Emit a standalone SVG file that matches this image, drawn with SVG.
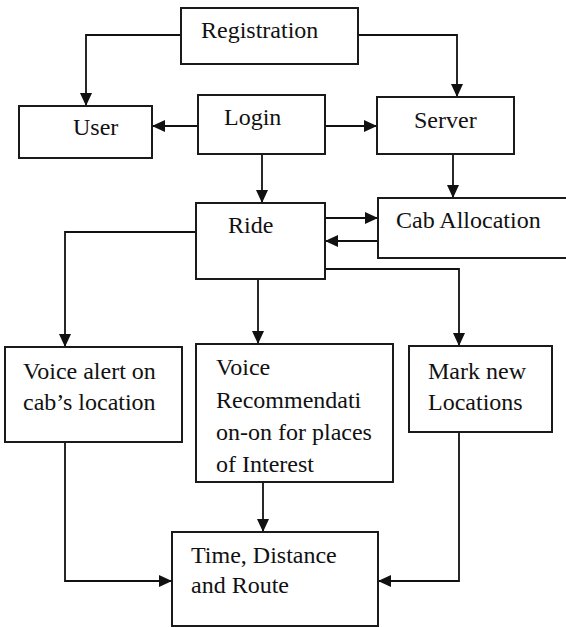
<svg xmlns="http://www.w3.org/2000/svg" width="566" height="627" viewBox="0 0 566 627">
<style>
.box{fill:#fff;stroke:#1a1a1a;stroke-width:2}
.t{font-size:24px;fill:#111}
.c{fill:none;stroke:#111;stroke-width:1.8}
</style>
<defs>
<marker id="ah" markerUnits="userSpaceOnUse" markerWidth="13" markerHeight="12" refX="13" refY="6" orient="auto">
<path d="M0,0 L13,6 L0,12 z" fill="#111"/>
</marker>
</defs>
<rect width="566" height="627" fill="#fff"/>
<g id="connectors">
<path class="c" d="M181,35 H86 V106" marker-end="url(#ah)"/>
<path class="c" d="M358,35 H457 V97" marker-end="url(#ah)"/>
<path class="c" d="M198,126 H152" marker-end="url(#ah)"/>
<path class="c" d="M325,126 H377" marker-end="url(#ah)"/>
<path class="c" d="M262,154 V203" marker-end="url(#ah)"/>
<path class="c" d="M453,154 V198" marker-end="url(#ah)"/>
<path class="c" d="M325,218 H378" marker-end="url(#ah)"/>
<path class="c" d="M378,241 H325" marker-end="url(#ah)"/>
<path class="c" d="M197,232 H65 V347" marker-end="url(#ah)"/>
<path class="c" d="M258,279 V344" marker-end="url(#ah)"/>
<path class="c" d="M325,269 H459 V346" marker-end="url(#ah)"/>
<path class="c" d="M65,442 V581 H172" marker-end="url(#ah)"/>
<path class="c" d="M263,482 V532" marker-end="url(#ah)"/>
<path class="c" d="M459,432 V581 H378" marker-end="url(#ah)"/>
</g>
<g font-family="'Liberation Serif', 'DejaVu Serif', serif">
<g id="registration"><rect class="box" x="181" y="8" width="177" height="56"/><text class="t" x="201" y="38">Registration</text></g>
<g id="user"><rect class="box" x="19" y="106" width="133" height="52"/><text class="t" x="73" y="135">User</text></g>
<g id="login"><rect class="box" x="198" y="95" width="127" height="59"/><text class="t" x="224" y="125">Login</text></g>
<g id="server"><rect class="box" x="377" y="97" width="137" height="57"/><text class="t" x="414" y="128">Server</text></g>
<g id="ride"><rect class="box" x="196" y="203" width="129" height="76"/><text class="t" x="228" y="233">Ride</text></g>
<g id="cab-allocation"><rect class="box" x="378" y="198" width="200" height="60"/><text class="t" x="396" y="228">Cab Allocation</text></g>
<g id="voice-alert"><rect class="box" x="5" y="347" width="177" height="95"/><text class="t" x="23" y="379">Voice alert on</text><text class="t" x="23" y="410">cab’s location</text></g>
<g id="voice-recommendation"><rect class="box" x="196" y="344" width="197" height="138"/><text class="t" x="216" y="375">Voice</text><text class="t" x="216" y="408">Recommendati</text><text class="t" x="216" y="440">on-on for places</text><text class="t" x="216" y="472">of Interest</text></g>
<g id="mark-new"><rect class="box" x="409" y="346" width="143" height="86"/><text class="t" x="428" y="379">Mark new</text><text class="t" x="428" y="410">Locations</text></g>
<g id="time-distance"><rect class="box" x="172" y="532" width="206" height="94"/><text class="t" x="191" y="563">Time, Distance</text><text class="t" x="191" y="593">and Route</text></g>
</g>
</svg>
